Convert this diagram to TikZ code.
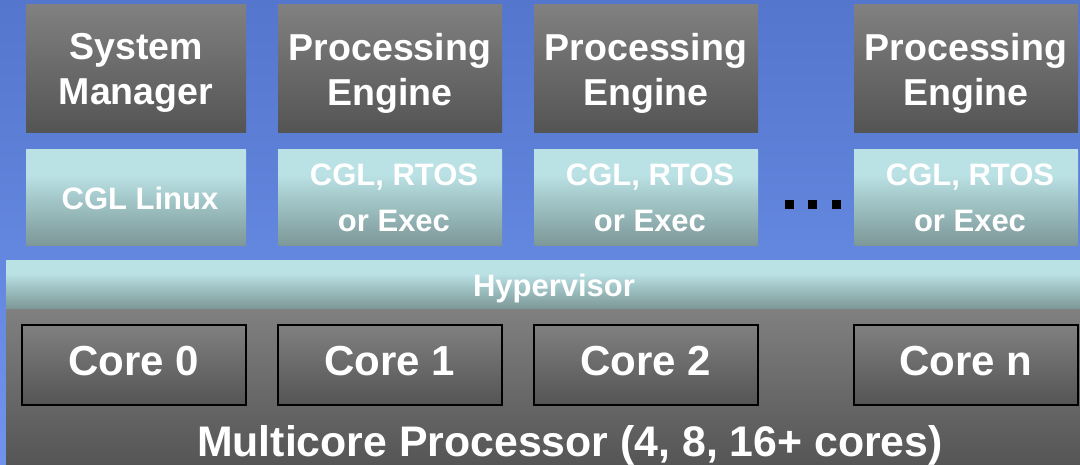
\documentclass[tikz,border=0pt]{standalone}
\usepackage{fontspec}
\setmainfont{Liberation Sans}
\definecolor{skytop}{RGB}{84,118,204}
\definecolor{skybot}{RGB}{112,148,238}
\definecolor{greytop}{RGB}{128,128,128}
\definecolor{greybot}{RGB}{84,84,84}
\definecolor{mintop}{RGB}{186,225,228}
\definecolor{minmid}{RGB}{160,196,198}
\definecolor{minbot}{RGB}{125,151,151}
\pgfdeclareverticalshading{mintfade}{100bp}{color(0bp)=(minbot); color(25bp)=(minbot); color(48bp)=(minmid); color(62bp)=(mintop); color(75bp)=(mintop); color(100bp)=(mintop)}
\begin{document}
\begin{tikzpicture}[x=1pt,y=-1pt,
    font=\bfseries,
    appbox/.style={inner sep=0pt, text=white, align=center, text depth=-4pt,
        top color=greytop, bottom color=greybot,
        font=\bfseries\fontsize{37.5}{45}\selectfont},
    osbox/.style={inner sep=0pt, text=white, align=center, text depth=0pt,
        shading=mintfade, minimum height=96pt,
        font=\bfseries\fontsize{31}{46}\selectfont},
    corebox/.style={inner sep=0pt, text=white, draw=black, line width=2pt,
        top color=greytop, bottom color=greybot, text depth=9pt,
        minimum width=224pt, minimum height=80pt,
        font=\bfseries\fontsize{42}{48}\selectfont}]
        \pgfmathsetmacro{\TopY}{69}
        \pgfmathsetmacro{\OsY}{198}
        \pgfmathsetmacro{\CoreY}{365}

        \useasboundingbox (0,0) rectangle (1080,465);
        \clip (0,0) rectangle (1080,465);
        \shade[top color=skytop, bottom color=skybot] (0,0) rectangle (1080,465);% Backdrop

        % applications
        \node[appbox, minimum width=220pt, minimum height=128pt] (sysmgr) at (136,\TopY) {System\\Manager};
        \node[appbox, minimum width=224pt, minimum height=128pt] (engA) at (390,\TopY) {Processing\\Engine};
        \node[appbox, minimum width=224pt, minimum height=128pt] (engB) at (646,\TopY) {Processing\\Engine};
        \node[appbox, minimum width=224pt, minimum height=128pt] (engN) at (966,\TopY) {Processing\\Engine};

        % operating systems
        \node[osbox, minimum width=220pt] (linux) at (136,\OsY) {\hspace*{8pt}CGL Linux};
        \node[osbox, minimum width=224pt] (osA) at (390,\OsY) {\hspace*{8pt}CGL, RTOS\\\hspace*{8pt}or Exec};
        \node[osbox, minimum width=224pt] (osB) at (646,\OsY) {\hspace*{8pt}CGL, RTOS\\\hspace*{8pt}or Exec};
        \node[osbox, minimum width=224pt] (osN) at (966,\OsY) {\hspace*{8pt}CGL, RTOS\\\hspace*{8pt}or Exec};

        \foreach \x in {785, 808, 832}{
            \fill[black] (\x,200) rectangle +(9,9);
        }

        % hypervisor and chip
        \node[osbox, minimum width=1096pt, minimum height=48pt,
            font=\bfseries\fontsize{31}{36}\selectfont] (hyper) at (554,285) {Hypervisor};
        \node[inner sep=0pt, minimum width=1128pt, minimum height=160pt,
            top color=greytop, bottom color=greybot, anchor=north west] (chip) at (6,309) {};

        \node[corebox] (core0) at (134,\CoreY) {Core 0};
        \node[corebox] (core1) at (390,\CoreY) {Core 1};
        \node[corebox] (core2) at (646,\CoreY) {Core 2};
        \node[corebox] (coreN) at (966,\CoreY) {Core n};

        \node[text=white, inner sep=0pt, text depth=0pt,
            font=\bfseries\fontsize{42.8}{48}\selectfont] (chiplabel) at (570,441) {Multicore Processor (4, 8, 16+ cores)};
    \end{tikzpicture}
\end{document}
